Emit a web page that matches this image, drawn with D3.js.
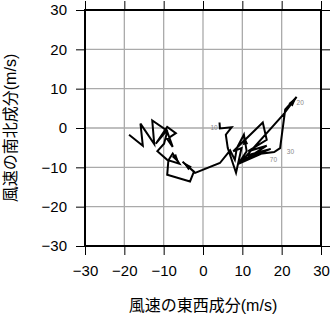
<!DOCTYPE html>
<html>
<head>
<meta charset="utf-8">
<script src="https://cdn.jsdelivr.net/npm/d3@7"></script>
<style>
  body { margin: 0; background: #fff; }
  text { font-family: "Liberation Sans", "Noto Sans CJK JP", sans-serif; }
</style>
</head>
<body>
<svg width="331" height="318"></svg>
<script>
const ticks = [-30, -20, -10, 0, 10, 20, 30];

// wind components along the profile (u: east-west, v: north-south), m/s
const uVals = [4.2, 4.3, 7.3, 5.8, 6.3, 8.4, 9.8, 7.7, 15.2, 16.2, 11.5, 16.2, 9.0, 14.9, 10.3,
  20.4, 23.8, 20.9, 19.6, 18.1, 11.1, 17.2, 9.4, 11.1, 10.4, 8.6, 8.1, 6.9, 4.3,
  -2.0, -5.2, -2.3, -3.3, -9.1, -8.8, -7.7, -6.0, -9.1, -11.6, -9.9, -9.1, -7.7, -9.1,
  -6.9, -9.1, -12.0, -9.2, -12.9, -12.4, -15.9, -15.3, -18.8];
const vVals = [1.4, -0.1, 0.2, -1.7, -5.1, -11.4, -5.1, -5.9, 1.4, -3.0, -5.9, -4.5, -9.1, -6.5, -7.9,
  3.4, 7.9, 4.7, -5.1, -6.1, -7.0, -5.3, -8.5, -5.9, -1.7, -5.1, -8.1, -5.7, -8.9,
  -11.4, -8.6, -11.1, -13.6, -11.9, -8.2, -6.5, -9.1, -8.1, -5.9, -4.0, -0.9, -4.8, -2.8,
  -1.3, 0.3, -4.0, -0.6, 1.9, -4.1, 1.1, -4.5, -1.7];

// points that end with an arrow head
const arrowAt = [16, 24, 30, 36];

const labelText = ["10", "20", "30", "70"];
const labelU = [1.9, 23.8, 21.3, 17.0];
const labelV = [-0.4, 5.9, -6.6, -8.6];

const margin = { left: 85, right: 10, top: 10, bottom: 72 };
const width = 331, height = 318;

const svg = d3.select("svg");

const x = d3.scaleLinear().domain([-30, 30]).range([margin.left, width - margin.right]);
const y = d3.scaleLinear().domain([-30, 30]).range([height - margin.bottom, margin.top]);

// grid
const grid = svg.append("g").attr("stroke", "#aaa").attr("stroke-width", 1.3);
grid.selectAll(".gx").data(ticks).join("line")
  .attr("x1", d => x(d)).attr("x2", d => x(d))
  .attr("y1", y(-30)).attr("y2", y(30));
grid.selectAll(".gy").data(ticks).join("line")
  .attr("y1", d => y(d)).attr("y2", d => y(d))
  .attr("x1", x(-30)).attr("x2", x(30));

// axes
function styleAxis(g) {
  g.select(".domain").remove();
  g.selectAll(".tick line").attr("stroke", "#000");
  g.selectAll(".tick text").attr("font-size", 15).attr("fill", "#000")
    .style("font-family", '"Liberation Sans", sans-serif');
}
svg.append("g").attr("transform", `translate(0,${y(-30)})`)
  .call(d3.axisBottom(x).tickValues(ticks).tickSize(9).tickPadding(10))
  .call(styleAxis);
svg.append("g").attr("transform", `translate(${x(-30)},0)`)
  .call(d3.axisLeft(y).tickValues(ticks).tickSize(9).tickPadding(9))
  .call(styleAxis);
svg.append("g").attr("transform", `translate(0,${y(30)})`)
  .call(d3.axisTop(x).tickValues(ticks).tickSize(9).tickFormat(""))
  .call(styleAxis);
svg.append("g").attr("transform", `translate(${x(30)},0)`)
  .call(d3.axisRight(y).tickValues(ticks).tickSize(9).tickFormat(""))
  .call(styleAxis);

// frame
svg.append("rect")
  .attr("x", x(-30)).attr("y", y(30))
  .attr("width", x(30) - x(-30)).attr("height", y(-30) - y(30))
  .attr("fill", "none").attr("stroke", "#000").attr("stroke-width", 2);

// hodograph
const pts = uVals.map((u, i) => [x(u), y(vVals[i])]);
svg.append("path")
  .attr("d", d3.line()(pts))
  .attr("fill", "none").attr("stroke", "#000")
  .attr("stroke-width", 2).attr("stroke-linejoin", "miter");

svg.append("g").selectAll("path").data(arrowAt).join("path")
  .attr("d", "M0,0L-10,-2.6L-10,2.6Z")
  .attr("fill", "#000")
  .attr("transform", i => {
    const [x1, y1] = pts[i - 1], [x2, y2] = pts[i];
    const a = Math.atan2(y2 - y1, x2 - x1) * 180 / Math.PI;
    return `translate(${x2},${y2}) rotate(${a})`;
  });

svg.append("g").selectAll("text").data(labelText).join("text")
  .attr("x", (d, i) => x(labelU[i])).attr("y", (d, i) => y(labelV[i]))
  .attr("font-size", 6.5).attr("fill", "#888")
  .text(d => d);

// titles
svg.append("text")
  .attr("x", (x(-30) + x(30)) / 2).attr("y", 311)
  .attr("text-anchor", "middle").attr("font-size", 16)
  .text("風速の東西成分(m/s)");
svg.append("text")
  .attr("transform", `translate(16,${(y(-30) + y(30)) / 2}) rotate(-90)`)
  .attr("text-anchor", "middle").attr("font-size", 16)
  .text("風速の南北成分(m/s)");
</script>
</body>
</html>
